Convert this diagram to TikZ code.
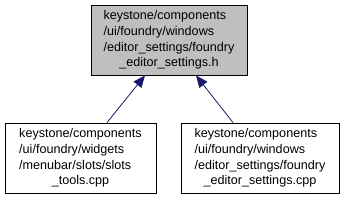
\documentclass[tikz,border=0pt]{standalone}
\usepackage{fontspec}
\setmainfont{Liberation Sans}
\usetikzlibrary{arrows.meta}
\definecolor{edgeblue}{HTML}{191970}
\definecolor{boxgray}{HTML}{BFBFBF}
\tikzset{
  filebox/.style={draw=black, line width=0.9pt, fill=white, minimum width=#1, minimum height=70pt, inner sep=0pt, font=\fontsize{12.6}{15.8}\selectfont, align=center},
  dep/.style={draw=edgeblue, line width=0.8pt, -{Triangle[length=12pt,width=10pt]}},
}
\newcommand{\lines}[4]{\begin{tabular}{@{}l@{}}#1\\#2\\#3\\\multicolumn{1}{@{}c@{}}{#4}\end{tabular}}
\begin{document}
\begin{tikzpicture}[x=1pt,y=-1pt]
\useasboundingbox (0,0) rectangle (343,200);
\node[filebox=156pt, fill=boxgray] (h) at (169,40) {\lines{keystone/components}{/ui/foundry/windows}{/editor\_settings/foundry}{\_editor\_settings.h}};
\node[filebox=151pt] (a) at (80.5,158) {\lines{keystone/components}{/ui/foundry/widgets}{/menubar/slots/slots}{\_tools.cpp}};
\node[filebox=158pt] (b) at (260,158) {\lines{keystone/components}{/ui/foundry/windows}{/editor\_settings/foundry}{\_editor\_settings.cpp}};
\draw[dep] (a.north -| 107,0) -- (h.south -| 145,0);
\draw[dep] (b.north -| 233,0) -- (h.south -| 196,0);
\end{tikzpicture}
\end{document}
